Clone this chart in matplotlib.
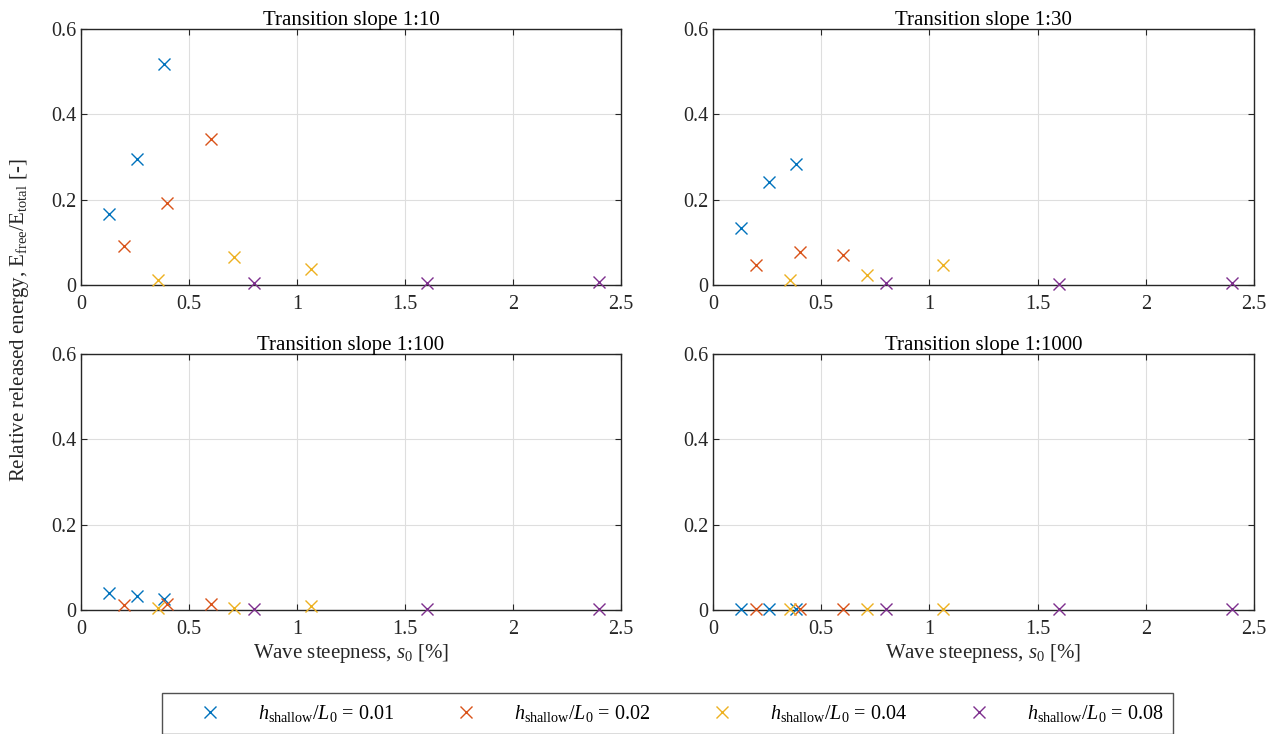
"""Relative released free-wave energy vs wave steepness for four transition slopes."""

import matplotlib

matplotlib.use("Agg")
import matplotlib.pyplot as plt  # noqa: E402
from matplotlib.lines import Line2D  # noqa: E402
from matplotlib.ticker import FormatStrFormatter  # noqa: E402

plt.rcParams["font.family"] = ["Liberation Serif", "DejaVu Serif"]
plt.rcParams["mathtext.fontset"] = "custom"
plt.rcParams["mathtext.rm"] = "Liberation Serif"
plt.rcParams["mathtext.it"] = "Liberation Serif:italic"

COLORS = ["#0072BD", "#D95319", "#EDB120", "#7E2F8E"]
DEPTH_RATIOS = ["0.01", "0.02", "0.04", "0.08"]
SLOPES = ["1:10", "1:30", "1:100", "1:1000"]

# wave steepness s0 [%] for each relative depth
S0_001 = [0.13, 0.257, 0.385]
S0_002 = [0.20, 0.40, 0.60]
S0_004 = [0.355, 0.71, 1.065]
S0_008 = [0.80, 1.60, 2.40]
STEEPNESS = [S0_001, S0_002, S0_004, S0_008]

# E_free / E_total per slope, one list per relative depth
SLOPE_10 = [[0.167, 0.295, 0.517], [0.091, 0.193, 0.342],
            [0.011, 0.066, 0.037], [0.005, 0.005, 0.008]]
SLOPE_30 = [[0.134, 0.241, 0.283], [0.047, 0.078, 0.071],
            [0.011, 0.023, 0.048], [0.004, 0.003, 0.004]]
SLOPE_100 = [[0.041, 0.032, 0.025], [0.012, 0.013, 0.014],
             [0.004, 0.005, 0.010], [0.003, 0.002, 0.003]]
SLOPE_1000 = [[0.002, 0.002, 0.002], [0.002, 0.002, 0.002],
              [0.002, 0.002, 0.002], [0.002, 0.002, 0.002]]
RELEASED = [SLOPE_10, SLOPE_30, SLOPE_100, SLOPE_1000]

W, H = 1285, 734
FS = 15
fig = plt.figure(figsize=(W / 100, H / 100), dpi=100)

# axes boxes in pixels: (left, top, right, bottom)
boxes = [(81, 29, 621, 285), (713, 29, 1254, 285),
         (81, 354, 621, 610), (713, 354, 1254, 610)]

for i, (l, t, r, b) in enumerate(boxes):
    ax = fig.add_axes([l / W, 1 - b / H, (r - l) / W, (b - t) / H])
    for k in range(4):
        ax.plot(STEEPNESS[k], RELEASED[i][k], linestyle="none", marker="x",
                color=COLORS[k], markersize=8.5, markeredgewidth=1.0,
                clip_on=False, zorder=3)
    ax.set_xlim(0, 2.5)
    ax.set_ylim(0, 0.6)
    ax.set_xticks([0, 0.5, 1, 1.5, 2, 2.5])
    ax.set_yticks([0, 0.2, 0.4, 0.6])
    ax.xaxis.set_major_formatter(FormatStrFormatter("%g"))
    ax.yaxis.set_major_formatter(FormatStrFormatter("%g"))
    ax.grid(True, color="#dedede", linewidth=0.8)
    ax.set_axisbelow(True)
    ax.tick_params(direction="in", length=4, width=0.8, top=True, right=True,
                   labelsize=14.5, colors="#262626")
    ax.tick_params(axis="y", pad=3.5)
    ax.tick_params(axis="x", pad=7.5)
    for sp in ax.spines.values():
        sp.set_color("#262626")
        sp.set_linewidth(1.0)
    ax.set_title(f"Transition slope {SLOPES[i]}", fontsize=FS, pad=3,
                 color="black")
    if i >= 2:
        ax.set_xlabel("Wave steepness, $s_0$ [%]", fontsize=FS,
                      color="#262626", labelpad=2)

fig.text(20 / W, 1 - 320 / H,
         r"Relative released energy, E$_{\rm free}$/E$_{\rm total}$ [-]",
         rotation=90, ha="center", va="center", fontsize=FS,
         color="#262626")

handles = [Line2D([], [], linestyle="none", marker="x", color=c,
                  markersize=8.5, markeredgewidth=1.0) for c in COLORS]
labels = [rf"$h_{{\rm shallow}}/L_0$ = {d}" for d in DEPTH_RATIOS]
leg = fig.legend(handles, labels, ncol=4, loc="upper left",
                 bbox_to_anchor=(162 / W, 1 - 693 / H),
                 fontsize=14.5, frameon=True, fancybox=False,
                 borderaxespad=0.0, handlelength=3.8, handletextpad=0.45,
                 columnspacing=1.7, borderpad=0.5)
leg.get_frame().set_edgecolor("#262626")
leg.get_frame().set_linewidth(1.0)

fig.savefig("out.png", dpi=100)
